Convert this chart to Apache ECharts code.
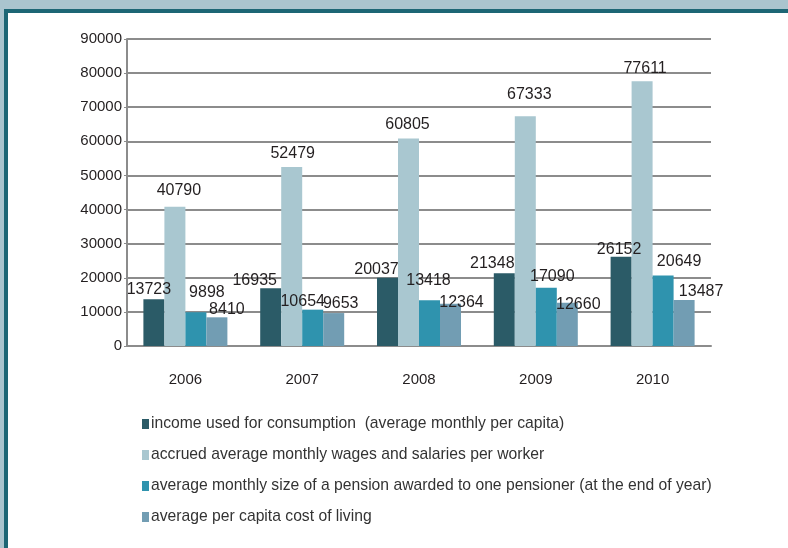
<!DOCTYPE html>
<html>
<head>
    <meta charset="utf-8">
    <title>Income, wages, pensions and cost of living</title>
    <script src="https://cdn.jsdelivr.net/npm/echarts@6/dist/echarts.min.js"></script>
    <style>
        html, body { margin: 0; padding: 0; }
        body { width: 788px; height: 548px; background: #aac4ce; position: relative; overflow: hidden; }
        .frame {
            position: absolute; left: 4px; top: 9px; right: 0; bottom: 0;
            border-left: 4px solid #1d6675; border-top: 4px solid #1d6675;
            background: #fff;
        }
        #chart1 { position: absolute; left: 0; top: 0; width: 780px; height: 535px; }
    </style>
</head>
<body>
<div class="frame">
    <div id="chart1"></div>
</div>
<script type="text/javascript">
    // data
    var years = ['2006', '2007', '2008', '2009', '2010'];
    var consumption = [13723, 16935, 20037, 21348, 26152];
    var wages = [40790, 52479, 60805, 67333, 77611];
    var pension = [9898, 10654, 13418, 17090, 20649];
    var costOfLiving = [8410, 9653, 12364, 12660, 13487];
    var seriesNames = [
        'income used for consumption  (average monthly per capita)',
        'accrued average monthly wages and salaries per worker',
        'average monthly size of a pension awarded to one pensioner (at the end of year)',
        'average per capita cost of living'
    ];
    var colors = ['#2b5b67', '#a9c7d0', '#2f93ae', '#729db3'];

    // the value labels in the original are nudged by hand, one shift per bar [dx, dy]
    var labelShift = [
        [[-5, -2], [-16, 0], [-11, 0], [-12, -2], [-2, 1]],
        [[4, -8], [1, -5], [-1, -6], [4, -14], [3, -5]],
        [[11, -12], [-10, 0], [-1, -12], [6, -3], [16, -6]],
        [[10, 0], [7, -1], [11, 7], [11, 10], [17, 0]]
    ];

    var myChart1 = echarts.init(document.getElementById('chart1'));

    function makeSeries(idx, data) {
        return {
            name: seriesNames[idx],
            type: 'bar',
            data: data.map(function (v, i) {
                return { value: v, label: { offset: labelShift[idx][i] } };
            }),
            barWidth: 21,
            barGap: '0%',
            itemStyle: { color: colors[idx] },
            label: {
                show: true,
                position: 'top',
                distance: 0,
                color: '#231f20',
                fontSize: 16,
                fontFamily: 'Liberation Sans'
            }
        };
    }

    myChart1.setOption({
        animation: false,
        textStyle: { fontFamily: 'Liberation Sans' },
        grid: { left: 119, right: 77, top: 26, bottom: 202 },
        legend: {
            orient: 'vertical',
            left: 129,
            top: 398,
            itemWidth: 7,
            itemHeight: 10,
            itemGap: 15,
            icon: 'rect',
            textStyle: { fontSize: 15.7, color: '#333', padding: [0, 0, 0, -3] },
            data: seriesNames
        },
        xAxis: {
            type: 'category',
            data: years,
            axisLine: { lineStyle: { color: '#8c8c8c', width: 2 } },
            axisTick: { show: false },
            axisLabel: { fontSize: 15, color: '#231f20', margin: 26 }
        },
        yAxis: {
            type: 'value',
            min: 0,
            max: 90000,
            interval: 10000,
            axisLine: { show: true, lineStyle: { color: '#8c8c8c', width: 2 } },
            axisTick: { show: true, length: 3, lineStyle: { color: '#8c8c8c' } },
            axisLabel: {
                fontSize: 15, color: '#231f20', margin: 5,
                formatter: function (v) { return String(v); }
            },
            splitLine: { lineStyle: { color: '#8c8c8c', width: 2 } }
        },
        series: [
            makeSeries(0, consumption),
            makeSeries(1, wages),
            makeSeries(2, pension),
            makeSeries(3, costOfLiving)
        ]
    });
</script>
</body>
</html>
